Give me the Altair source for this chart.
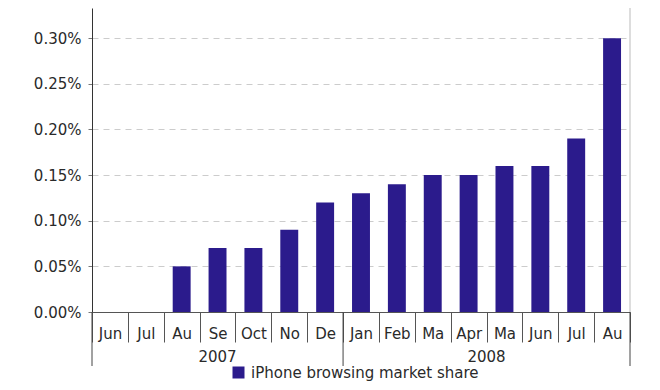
import altair as alt
import pandas as pd

# ---- data ----
months = ["Jun", "Jul", "Au", "Se", "Oct", "No", "De",
          "Jan", "Feb", "Ma", "Apr", "Ma", "Jun", "Jul", "Au"]
share = [0.00, 0.00, 0.05, 0.07, 0.07, 0.09, 0.12,
         0.13, 0.14, 0.15, 0.15, 0.16, 0.16, 0.19, 0.30]
year_labels = ["2007", "2008"]
year_month_counts = [7, 8]
y_ticks = [0.00, 0.05, 0.10, 0.15, 0.20, 0.25, 0.30]
series_name = "iPhone browsing market share"

BAR = "#2b1b8c"
FONT = "DejaVu Sans"
TXT = "#2a2a2a"

n = len(months)
bar_df = pd.DataFrame({
    "key": [f"{i:02d}|{m}" for i, m in enumerate(months)],
    "share": share,
    "series": series_name,
})

mids, bounds = [], [0]
acc = 0
for c in year_month_counts:
    mids.append(acc + c / 2)
    acc += c
    bounds.append(acc)
year_df = pd.DataFrame({"year": year_labels, "mid": mids})
sep_df = pd.DataFrame({"pos": bounds})
right_df = pd.DataFrame({"pos": [n]})

xq = alt.Scale(domain=[0, n], nice=False, zero=False)

bars = alt.Chart(bar_df).mark_bar(width=alt.RelativeBandSize(0.5)).encode(
    x=alt.X("key:N", sort=None,
            scale=alt.Scale(paddingInner=0, paddingOuter=0),
            axis=alt.Axis(title=None, labelExpr="split(datum.value,'|')[1]",
                          tickBand="extent", tickSize=30, labelPadding=-4,
                          labelBaseline="alphabetic", labelAngle=0,
                          labelOverlap=False, labelFont=FONT, labelFontSize=15,
                          labelColor=TXT, tickColor="#555", domainColor="#555",
                          grid=False)),
    y=alt.Y("share:Q",
            scale=alt.Scale(domain=[0, 0.333], nice=False, zero=True),
            axis=alt.Axis(title=None, values=y_ticks,
                          labelExpr="format(datum.value,'.2f')+'%'",
                          grid=True, gridDash=[6, 5], gridColor="#cccccc",
                          tickSize=4, tickColor="#777", labelPadding=7,
                          labelFont=FONT, labelFontSize=15, labelColor=TXT,
                          domainColor="#333")),
    color=alt.Color("series:N", scale=alt.Scale(range=[BAR]),
                    legend=alt.Legend(title=None, orient="none", legendX=139,
                                      legendY=357, symbolType="square",
                                      symbolSize=144, symbolStrokeWidth=0,
                                      labelFont=FONT, labelFontSize=15,
                                      labelColor=TXT, labelOffset=5,
                                      labelLimit=0, padding=0)),
)

seps = alt.Chart(sep_df).mark_rule(color="#444", strokeWidth=1).encode(
    x=alt.X("pos:Q", scale=xq, axis=None),
    y=alt.value(304), y2=alt.value(358),
)

right_border = alt.Chart(right_df).mark_rule(color="#bbbbbb", strokeWidth=1).encode(
    x=alt.X("pos:Q", scale=xq, axis=None),
    y=alt.value(0), y2=alt.value(304),
)

year_text = alt.Chart(year_df).mark_text(
    font=FONT, fontSize=15, color=TXT, baseline="alphabetic", align="center"
).encode(
    x=alt.X("mid:Q", scale=xq, axis=None),
    y=alt.value(354),
    text="year:N",
)

chart = alt.layer(bars, right_border, seps, year_text).resolve_scale(
    x="independent"
).properties(
    width=538, height=304,
    autosize=alt.AutoSizeParams(type="none"),
    padding={"left": 84, "top": 0, "right": 22, "bottom": 70},
).configure_view(stroke=None)

chart.save("out.html", embed_options={"renderer": "svg", "actions": False})
